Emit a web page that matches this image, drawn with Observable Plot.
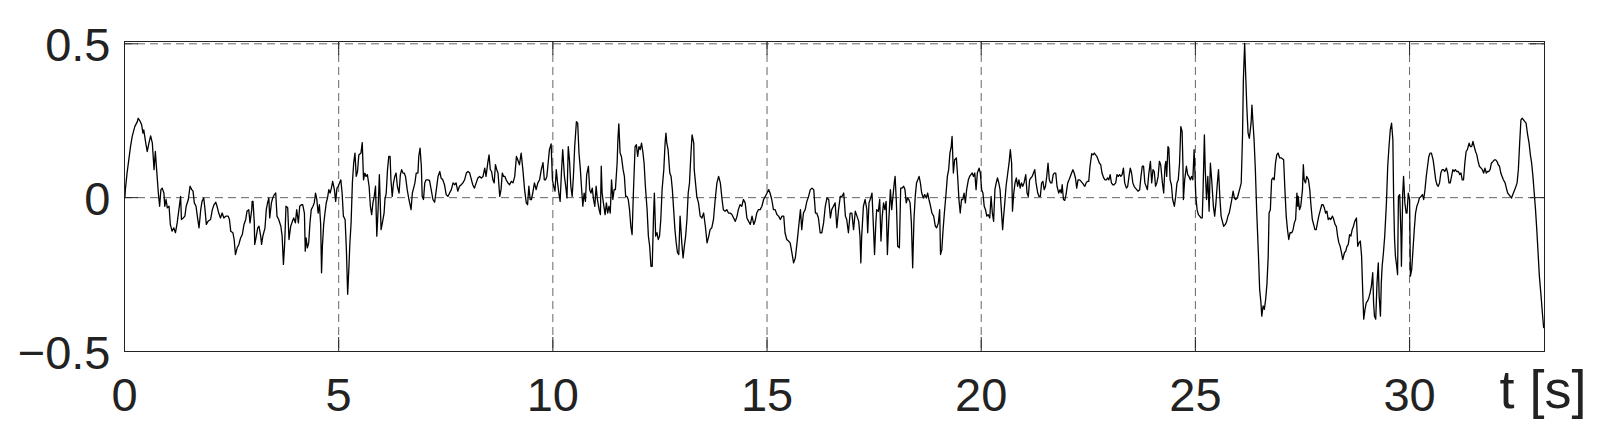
<!DOCTYPE html>
<html><head><meta charset="utf-8">
<script src="https://cdn.jsdelivr.net/npm/d3@7"></script>
<script src="https://cdn.jsdelivr.net/npm/@observablehq/plot@0.6"></script>
<style>body{margin:0;background:#fff} svg{display:block}</style>
</head><body><div id="chart"></div>
<script>
// signal samples [t (s), value]
const seg1 = [[0,0],[0.01,0],[0.02,0.026],[0.06,0.080],[0.10,0.123],[0.14,0.166],[0.18,0.199],[0.24,0.231],[0.30,0.247],[0.32,0.258],[0.37,0.247],[0.40,0.237],[0.43,0.210],[0.45,0.220],[0.49,0.183],[0.53,0.150],[0.57,0.177],[0.61,0.201],[0.65,0.177],[0.69,0.091],[0.72,0.150],[0.75,0.091],[0.79,0.015],[0.82,-0.028],[0.85,0.026],[0.88,0.031],[0.92,0.015],[0.94,-0.028],[0.97,-0.006],[1.00,-0.033],[1.04,-0.028],[1.07,-0.087],[1.11,-0.109],[1.15,-0.098],[1.19,-0.114],[1.23,-0.082],[1.27,-0.039],[1.31,0.004],[1.33,-0.071],[1.37,-0.066],[1.41,-0.060],[1.44,-0.028],[1.49,-0.006],[1.53,0.037],[1.57,0.026],[1.60,0.021],[1.63,-0.017],[1.67,-0.028],[1.70,-0.060],[1.74,-0.098],[1.78,-0.039],[1.81,-0.012],[1.85,-0.001],[1.88,-0.039],[1.91,-0.087],[1.95,-0.077],[2.01,-0.071],[2.05,-0.039],[2.09,-0.023],[2.13,-0.015],[2.16,-0.028],[2.20,-0.050],[2.24,-0.066],[2.28,-0.050],[2.32,-0.066],[2.37,-0.060],[2.42,-0.060],[2.45,-0.071],[2.48,-0.109],[2.53,-0.114],[2.56,-0.136],[2.59,-0.185],[2.63,-0.163],[2.67,-0.152],[2.71,-0.131],[2.75,-0.120],[2.79,-0.087],[2.83,-0.071],[2.86,-0.044],[2.90,-0.039],[2.93,-0.082],[2.97,-0.039],[2.98,-0.012],[3.00,-0.012],[3.03,-0.082],[3.04,-0.152],[3.07,-0.131],[3.11,-0.098],[3.14,-0.093],[3.18,-0.125],[3.20,-0.152],[3.23,-0.125],[3.28,-0.098],[3.31,-0.039],[3.34,-0.017],[3.37,-0.001],[3.39,-0.066],[3.43,-0.017],[3.46,-0.001],[3.50,0.010],[3.53,0.015],[3.56,-0.060],[3.60,-0.071],[3.65,-0.093],[3.68,-0.125],[3.71,-0.217],[3.74,-0.147],[3.77,-0.028],[3.81,-0.033],[3.84,-0.136],[3.88,-0.093],[3.92,-0.077],[3.95,-0.066],[3.99,-0.082],[4.02,-0.039],[4.06,-0.082],[4.09,-0.028],[4.13,-0.023],[4.16,-0.023],[4.20,-0.050],[4.22,-0.174],[4.24,-0.131],[4.27,-0.163],[4.30,-0.147],[4.33,-0.082],[4.36,-0.039],[4.40,-0.028],[4.43,-0.017],[4.46,0.015],[4.49,-0.006],[4.52,-0.050],[4.55,-0.023],[4.58,-0.087],[4.60,-0.244],[4.62,-0.158],[4.65,-0.087],[4.68,-0.050],[4.71,-0.017],[4.74,-0.001],[4.77,0.026],[4.80,0.015],[4.83,0.031],[4.86,0.053],[4.90,0.026],[4.93,-0.012],[4.96,0.031],[4.99,0.037],[5.02,0.048],[5.05,0.058],[5.08,0.015],[5.11,-0.060],[5.15,-0.071],[5.18,-0.169],[5.21,-0.314],[5.24,-0.223],[5.26,-0.152],[5.29,-0.082],[5.32,0.048],[5.35,0.112],[5.38,0.145],[5.41,0.069],[5.44,0.085],[5.47,0.139],[5.52,0.145],[5.55,0.179],[5.58,0.058],[5.61,0.080],[5.64,0.069],[5.67,0.075],[5.71,0.037],[5.74,-0.028],[5.77,-0.055],[5.80,-0.017],[5.83,0.004],[5.86,0.037],[5.89,-0.125],[5.92,-0.039],[5.95,0.075],[5.99,-0.104],[6.02,-0.082],[6.06,-0.050],[6.08,-0.006],[6.11,0.015],[6.14,0.091],[6.17,0.134],[6.20,0.134],[6.22,0.058],[6.25,0.004],[6.28,0.048],[6.31,0.069],[6.34,0.080],[6.37,0.037],[6.41,0.015],[6.44,0.075],[6.47,0.091],[6.50,0.080],[6.53,0.080],[6.56,0.069],[6.60,0.026],[6.64,-0.006]];
const seg2 = [[6.65,-0.012],[6.69,-0.039],[6.72,0.015],[6.75,0.031],[6.78,0.048],[6.81,0.080],[6.85,0.080],[6.87,0.134],[6.90,0.161],[6.93,0.102],[6.95,0.004],[6.98,-0.006],[7.01,0.048],[7.04,0.058],[7.08,0.058],[7.12,0.056],[7.16,0.026],[7.20,-0.006],[7.24,-0.015],[7.28,0.026],[7.32,0.069],[7.36,0.085],[7.39,0.064],[7.43,0.058],[7.47,0.042],[7.51,0.010],[7.55,0.004],[7.59,0.015],[7.63,0.026],[7.67,0.048],[7.71,0.042],[7.74,0.048],[7.78,0.021],[7.82,0.037],[7.86,0.042],[7.90,0.048],[7.94,0.058],[7.98,0.080],[8.02,0.085],[8.06,0.080],[8.10,0.058],[8.13,0.042],[8.17,0.031],[8.21,0.048],[8.25,0.064],[8.29,0.069],[8.33,0.064],[8.37,0.069],[8.41,0.096],[8.44,0.069],[8.48,0.112],[8.51,0.139],[8.54,0.091],[8.57,0.085],[8.60,0.058],[8.63,0.048],[8.66,0.107],[8.69,0.091],[8.72,0.080],[8.76,0.004],[8.79,0.026],[8.82,0.080],[8.85,0.069],[8.88,0.069],[8.91,0.058],[8.95,0.048],[8.99,0.042],[9.03,0.053],[9.07,0.048],[9.11,0.069],[9.15,0.134],[9.18,0.123],[9.22,0.107],[9.26,0.145],[9.30,0.091],[9.34,0.026],[9.38,-0.017],[9.41,-0.023],[9.44,0.037],[9.47,-0.006],[9.50,-0.006],[9.53,0.015],[9.57,0.048],[9.61,0.026],[9.65,0.048],[9.69,0.058],[9.73,0.091],[9.77,0.114],[9.80,0.058],[9.83,0.058],[9.86,0.069],[9.89,0.112],[9.92,0.156],[9.96,0.175],[9.99,0.058],[10.02,0.037],[10.05,0.021],[10.08,0.091],[10.11,0.048],[10.14,0.015],[10.17,-0.012],[10.20,0.080],[10.23,0.156],[10.27,0.069],[10.30,0.037],[10.33,-0.001],[10.36,0.166],[10.39,0.118],[10.42,0.037],[10.45,0.004],[10.48,0.069],[10.51,0.166],[10.55,0.247],[10.58,0.242],[10.61,0.145],[10.64,0.096],[10.67,0.031],[10.70,-0.028],[10.73,0.015],[10.76,-0.012],[10.79,0.075],[10.83,0.102],[10.86,0.026],[10.89,0.015],[10.92,0.031],[10.95,-0.006],[10.98,-0.028],[11.01,0.037],[11.04,-0.006],[11.08,-0.039],[11.11,-0.055],[11.13,0.102],[11.15,0.015],[11.18,-0.017],[11.22,-0.055],[11.25,-0.017],[11.28,-0.050],[11.31,-0.028],[11.34,-0.050],[11.37,0.058],[11.40,-0.006],[11.43,0.026],[11.46,0.026],[11.50,0.112],[11.52,0.193],[11.54,0.240],[11.57,0.145],[11.60,0.134],[11.64,0.091],[11.67,0.069],[11.70,0.004],[11.73,0.004],[11.76,-0.006],[11.79,-0.039],[11.82,-0.093],[11.85,-0.120],[11.88,0.015],[11.92,0.166],[11.95,0.172],[11.98,0.134],[12.01,0.166],[12.04,0.156],[12.07,0.177],[12.10,0.150],[12.13,0.112],[12.16,0.037],[12.20,-0.039],[12.23,-0.125],[12.26,-0.158],[12.29,-0.223],[12.32,-0.223],[12.35,-0.060],[12.37,0.015],[12.40,-0.125],[12.43,-0.114],[12.46,-0.136],[12.49,-0.125],[12.52,-0.071],[12.55,0.026],[12.59,0.091],[12.62,0.177],[12.64,0.210],[12.66,0.177],[12.69,0.156],[12.73,0.080],[12.76,0.069],[12.79,0.026],[12.82,-0.039],[12.85,-0.104],[12.88,-0.147],[12.91,-0.179],[12.94,-0.185],[12.97,-0.060],[13.01,-0.147],[13.04,-0.196],[13.07,-0.158],[13.10,-0.125],[13.13,-0.071],[13.16,0.015],[13.19,0.048],[13.22,0.134],[13.25,0.204],[13.29,0.177]];
const seg3 = [[13.30,0.091],[13.33,0.048],[13.36,0.004],[13.40,-0.017],[13.44,-0.060],[13.48,-0.066],[13.52,-0.050],[13.56,-0.093],[13.60,-0.147],[13.64,-0.125],[13.67,-0.104],[13.71,-0.098],[13.75,-0.071],[13.79,-0.006],[13.83,0.048],[13.87,0.069],[13.91,0.048],[13.95,-0.006],[13.98,-0.039],[14.02,-0.044],[14.06,-0.039],[14.10,-0.050],[14.14,-0.050],[14.18,-0.055],[14.22,-0.066],[14.26,-0.077],[14.30,-0.060],[14.33,-0.039],[14.37,-0.023],[14.41,-0.028],[14.45,-0.006],[14.49,-0.017],[14.53,-0.066],[14.57,-0.077],[14.61,-0.087],[14.65,-0.060],[14.69,-0.087],[14.72,-0.077],[14.76,-0.050],[14.80,-0.039],[14.84,-0.039],[14.88,-0.028],[14.92,-0.006],[14.96,0.004],[15.00,0.015],[15.04,0.026],[15.07,0.015],[15.11,-0.006],[15.15,-0.039],[15.19,-0.039],[15.23,-0.055],[15.27,-0.060],[15.31,-0.071],[15.35,-0.060],[15.39,-0.060],[15.42,-0.114],[15.46,-0.136],[15.50,-0.141],[15.54,-0.147],[15.58,-0.179],[15.62,-0.212],[15.66,-0.196],[15.70,-0.147],[15.74,-0.093],[15.78,-0.039],[15.81,-0.104],[15.85,-0.050],[15.89,-0.039],[15.93,-0.012],[15.97,0.004],[16.01,0.026],[16.05,0.031],[16.09,0.026],[16.13,-0.050],[16.16,-0.050],[16.20,-0.066],[16.24,-0.114],[16.28,-0.114],[16.32,-0.082],[16.36,-0.028],[16.40,-0.001],[16.44,-0.006],[16.48,-0.066],[16.51,-0.039],[16.55,-0.028],[16.59,-0.017],[16.63,-0.098],[16.67,-0.039],[16.71,0.004],[16.75,0.004],[16.79,0.015],[16.83,-0.060],[16.86,-0.071],[16.90,-0.114],[16.94,-0.050],[16.98,-0.050],[17.02,-0.104],[17.06,-0.044],[17.10,-0.060],[17.14,-0.077],[17.17,-0.125],[17.19,-0.212],[17.21,-0.125],[17.25,-0.028],[17.29,-0.006],[17.33,-0.039],[17.35,-0.114],[17.38,-0.017],[17.42,-0.001],[17.45,0.015],[17.48,-0.082],[17.51,-0.185],[17.54,-0.082],[17.56,-0.039],[17.60,-0.044],[17.63,-0.006],[17.66,-0.141],[17.69,-0.060],[17.72,-0.017],[17.75,-0.039],[17.78,-0.012],[17.81,-0.185],[17.84,-0.082],[17.88,0.026],[17.91,-0.039],[17.94,0.004],[17.97,0.048],[17.99,0.069],[18.02,-0.017],[18.05,-0.158],[18.09,-0.163],[18.12,0.031],[18.15,0.031],[18.19,0.037],[18.22,0.026],[18.25,-0.017],[18.28,-0.001],[18.31,-0.006],[18.34,-0.017],[18.37,-0.082],[18.40,-0.228],[18.43,-0.071],[18.46,0.004],[18.49,0.048],[18.52,0.058],[18.55,0.069],[18.58,0.048],[18.61,0.015],[18.65,-0.001],[18.68,0.010],[18.72,-0.001],[18.75,0.015],[18.78,-0.006],[18.81,-0.023],[18.85,-0.050],[18.89,-0.060],[18.93,-0.093],[18.96,-0.098],[19.00,-0.082],[19.03,-0.039],[19.05,-0.185],[19.08,-0.169],[19.11,-0.104],[19.14,-0.050],[19.18,0.015],[19.21,0.069],[19.24,0.091],[19.27,0.145],[19.30,0.166],[19.32,0.199],[19.35,0.080],[19.38,0.123],[19.42,0.129],[19.45,0.069],[19.48,-0.006],[19.51,-0.050],[19.54,-0.006],[19.57,-0.006],[19.60,0.015],[19.63,-0.017],[19.66,0.026],[19.70,0.058],[19.73,0.069],[19.76,0.075],[19.79,0.080],[19.82,0.069],[19.85,0.080],[19.88,0.026],[19.91,0.080]];
const seg4 = [[19.95,0.096],[19.98,0.080],[20.01,0.026],[20.04,0.015],[20.07,-0.028],[20.10,-0.039],[20.13,-0.060],[20.16,-0.055],[20.20,-0.066],[20.23,0.004],[20.26,-0.050],[20.29,-0.077],[20.32,0.026],[20.35,0.048],[20.38,0.064],[20.41,0.048],[20.44,0.026],[20.47,-0.039],[20.50,-0.104],[20.52,-0.066],[20.55,-0.017],[20.58,0.037],[20.62,0.080],[20.65,0.112],[20.68,0.156],[20.71,0.112],[20.73,-0.044],[20.76,0.015],[20.79,0.048],[20.82,0.064],[20.85,0.037],[20.88,0.058],[20.91,0.031],[20.94,0.048],[20.97,0.037],[21.00,0.048],[21.04,0.075],[21.07,0.015],[21.10,0.004],[21.13,0.058],[21.16,0.064],[21.19,0.069],[21.22,0.080],[21.25,0.091],[21.28,0.048],[21.32,0.015],[21.35,0.004],[21.38,0.004],[21.41,0.048],[21.44,0.053],[21.47,0.026],[21.50,0.037],[21.53,0.069],[21.56,0.112],[21.59,0.058],[21.62,0.048],[21.65,0.048],[21.68,0.075],[21.71,0.080],[21.74,0.080],[21.77,0.037],[21.81,0.015],[21.84,0.026],[21.87,0.015],[21.89,0.042],[21.92,-0.006],[21.95,-0.009],[21.98,0.010],[22.02,0.048],[22.05,0.058],[22.08,0.069],[22.11,0.080],[22.14,0.091],[22.17,0.080],[22.20,0.064],[22.23,0.031],[22.26,0.058],[22.30,0.058],[22.33,0.053],[22.36,0.048],[22.39,0.042],[22.42,0.037],[22.45,0.048],[22.48,0.053],[22.51,0.053],[22.54,0.102],[22.58,0.143],[22.61,0.139],[22.64,0.145],[22.67,0.139],[22.70,0.134],[22.73,0.123],[22.76,0.112],[22.79,0.107],[22.82,0.080],[22.86,0.064],[22.89,0.058],[22.92,0.058],[22.95,0.064],[22.98,0.058],[23.01,0.075],[23.04,0.048],[23.07,0.042],[23.10,0.042],[23.14,0.048],[23.17,0.075],[23.20,0.069],[23.23,0.075],[23.26,0.069],[23.29,0.075],[23.32,0.096],[23.35,0.048],[23.39,0.031],[23.42,0.037],[23.45,0.069],[23.48,0.096],[23.51,0.080],[23.54,0.048],[23.57,0.037],[23.60,0.031],[23.63,0.026],[23.66,0.021],[23.70,0.026],[23.73,0.069],[23.76,0.102],[23.79,0.102],[23.82,0.048],[23.85,0.037],[23.88,0.026],[23.91,0.075],[23.95,0.118],[23.98,0.048],[24.01,0.091],[24.04,0.085],[24.07,0.037],[24.10,0.048],[24.13,0.069],[24.16,0.118],[24.19,0.107],[24.23,0.048],[24.26,0.015],[24.29,0.102],[24.31,0.118],[24.33,0.069],[24.36,0.166],[24.38,0.161],[24.41,0.058],[24.44,0.042],[24.47,-0.006],[24.51,-0.028],[24.54,0.004],[24.57,0.048],[24.60,0.058],[24.63,0.112],[24.66,0.231],[24.69,0.215],[24.71,0.102],[24.72,-0.006],[24.75,0.058],[24.79,0.102],[24.82,0.075],[24.85,0.069],[24.88,0.058],[24.91,0.069],[24.94,0.058],[24.97,0.156],[24.99,0.080],[25.01,0.004],[25.04,-0.039],[25.07,-0.055],[25.10,-0.060],[25.13,-0.066],[25.16,-0.066],[25.18,0.026],[25.21,0.204],[25.23,0.091],[25.26,-0.006],[25.29,0.069],[25.32,-0.044],[25.35,0.112],[25.38,0.058],[25.42,-0.028],[25.45,-0.060],[25.48,-0.017],[25.51,0.042],[25.54,0.091],[25.57,0.004],[25.60,-0.060],[25.63,-0.077],[25.66,-0.093],[25.70,-0.087],[25.73,-0.077],[25.76,-0.060],[25.79,-0.050],[25.82,-0.028],[25.85,-0.006],[25.88,0.021],[25.91,-0.001],[25.94,-0.006],[25.98,-0.001],[26.01,0.015],[26.04,0.031],[26.07,0.048],[26.10,0.199],[26.12,0.382],[26.15,0.501],[26.17,0.415],[26.20,0.296],[26.23,0.210],[26.26,0.193],[26.30,0.242],[26.32,0.301],[26.34,0.253],[26.37,0.188],[26.40,0.091],[26.43,-0.039],[26.47,-0.179]];
const seg5 = [[26.50,-0.298],[26.53,-0.341],[26.55,-0.385],[26.58,-0.352],[26.61,-0.363],[26.64,-0.331],[26.67,-0.282],[26.70,-0.190],[26.72,-0.050],[26.75,-0.039],[26.78,0.058],[26.81,0.064],[26.84,0.058],[26.87,0.112],[26.90,0.139],[26.93,0.145],[26.97,0.129],[27.01,0.129],[27.06,0.123],[27.09,0.026],[27.12,-0.060],[27.15,-0.104],[27.18,-0.136],[27.21,-0.114],[27.25,-0.114],[27.28,-0.104],[27.31,-0.082],[27.34,-0.071],[27.37,0.015],[27.39,-0.028],[27.40,0.004],[27.43,-0.039],[27.46,-0.028],[27.50,0.026],[27.52,0.107],[27.54,0.058],[27.57,0.048],[27.60,0.069],[27.64,0.058],[27.67,0.026],[27.70,-0.028],[27.73,-0.071],[27.76,-0.087],[27.79,-0.104],[27.82,-0.104],[27.85,-0.082],[27.88,-0.060],[27.92,-0.039],[27.95,-0.023],[27.98,-0.023],[28.01,-0.033],[28.04,-0.050],[28.07,-0.044],[28.10,-0.071],[28.13,-0.066],[28.16,-0.071],[28.20,-0.060],[28.23,-0.071],[28.26,-0.087],[28.29,-0.093],[28.32,-0.125],[28.35,-0.147],[28.38,-0.158],[28.41,-0.179],[28.44,-0.201],[28.48,-0.179],[28.51,-0.174],[28.54,-0.158],[28.57,-0.152],[28.60,-0.120],[28.63,-0.125],[28.66,-0.104],[28.69,-0.093],[28.72,-0.077],[28.76,-0.066],[28.79,-0.158],[28.82,-0.147],[28.85,-0.141],[28.88,-0.190],[28.91,-0.320],[28.93,-0.395],[28.96,-0.363],[28.99,-0.341],[29.02,-0.336],[29.05,-0.325],[29.08,-0.309],[29.11,-0.287],[29.14,-0.244],[29.16,-0.341],[29.18,-0.385],[29.21,-0.395],[29.24,-0.277],[29.27,-0.212],[29.29,-0.320],[29.32,-0.385],[29.34,-0.277],[29.36,-0.223],[29.39,-0.179],[29.42,-0.125],[29.46,-0.017],[29.49,0.102],[29.52,0.166],[29.55,0.220],[29.58,0.242],[29.61,0.188],[29.63,-0.017],[29.65,-0.136],[29.67,-0.190],[29.70,-0.223],[29.72,-0.250],[29.74,0.004],[29.77,0.010],[29.80,-0.125],[29.81,-0.223],[29.84,0.015],[29.86,0.069],[29.89,-0.017],[29.92,-0.050],[29.94,-0.050],[29.97,0.015],[30.00,-0.006],[30.02,-0.255],[30.05,-0.233],[30.08,-0.169],[30.11,-0.104],[30.14,-0.050],[30.17,-0.028],[30.20,-0.017],[30.23,-0.001],[30.27,0.004],[30.30,0.010],[30.33,-0.006],[30.36,0.026],[30.39,0.069],[30.42,0.102],[30.45,0.134],[30.48,0.145],[30.51,0.145],[30.55,0.123],[30.58,0.091],[30.61,0.058],[30.64,0.042],[30.67,0.037],[30.70,0.048],[30.73,0.080],[30.76,0.091],[30.79,0.091],[30.82,0.085],[30.86,0.096],[30.89,0.080],[30.92,0.048],[30.95,0.048],[30.98,0.069],[31.01,0.091],[31.04,0.085],[31.07,0.091],[31.10,0.085],[31.14,0.085],[31.17,0.075],[31.20,0.080],[31.23,0.058],[31.26,0.058],[31.29,0.112],[31.32,0.150],[31.35,0.156],[31.39,0.177],[31.42,0.166],[31.45,0.166],[31.48,0.183],[31.51,0.166],[31.54,0.150],[31.57,0.139],[31.60,0.118],[31.63,0.102],[31.67,0.096],[31.70,0.091],[31.73,0.080],[31.76,0.096],[31.79,0.080],[31.82,0.085],[31.85,0.085],[31.88,0.091],[31.91,0.112],[31.95,0.118],[31.98,0.123],[32.01,0.123],[32.04,0.118],[32.07,0.107],[32.10,0.102],[32.13,0.080],[32.16,0.069],[32.19,0.058],[32.23,0.048],[32.26,0.031],[32.29,0.015],[32.32,0.010],[32.35,0.004],[32.38,-0.001],[32.41,0.010],[32.44,0.021],[32.47,0.031],[32.51,0.048],[32.54,0.091],[32.57,0.177],[32.60,0.253],[32.63,0.258],[32.66,0.253],[32.69,0.247],[32.72,0.242],[32.75,0.210],[32.79,0.177],[32.82,0.139],[32.85,0.112],[32.88,0.069],[32.91,0.015],[32.94,-0.039],[32.97,-0.104],[33.00,-0.179],[33.03,-0.255],[33.07,-0.320],[33.10,-0.374],[33.13,-0.422]];

const xTicks = [0, 5, 10, 15, 20, 25, 30];
const xTickLabels = ["0", "5", "10", "15", "20", "25", "30"];
const yTicks = [-0.5, 0, 0.5];
const yTickLabels = ["\u22120.5", "0", "0.5"];
const xLabel = "t [s]";
const xDomain = [0, 33.15];
const yDomain = [-0.5, 0.5075];

const data = [...seg1, ...seg2, ...seg3, ...seg4, ...seg5].map(([t, v]) => ({t, v}));

const W = 1611, H = 437, mL = 124, mR = 67, mT = 41, mB = 86;
const pxY = (yDomain[1] - yDomain[0]) / (H - mT - mB);
const pxX = (xDomain[1] - xDomain[0]) / (W - mL - mR);
const tickLen = 14;
const font = "'Liberation Sans', Arial, Helvetica, sans-serif";
const ink = "#222";
const grid = {stroke: "#666", strokeDasharray: "8,5", strokeWidth: 1};

const chart = Plot.plot({
  width: W, height: H,
  marginLeft: mL, marginRight: mR, marginTop: mT, marginBottom: mB,
  x: {domain: xDomain, axis: null},
  y: {domain: yDomain, axis: null},
  style: {fontFamily: font, background: "#fff", color: ink},
  marks: [
    Plot.ruleX(xTicks.slice(1), grid),
    Plot.ruleY([0, 0.5], grid),
    Plot.lineY(data, {x: "t", y: "v", stroke: "#000", strokeWidth: 1.3}),
    Plot.ruleX(xTicks, {y1: yDomain[0], y2: yDomain[0] + tickLen * pxY, stroke: ink}),
    Plot.ruleX(xTicks, {y1: yDomain[1], y2: yDomain[1] - tickLen * pxY, stroke: ink}),
    Plot.ruleY(yTicks, {x1: xDomain[0], x2: xDomain[0] + tickLen * pxX, stroke: ink}),
    Plot.ruleY(yTicks, {x1: xDomain[1], x2: xDomain[1] - tickLen * pxX, stroke: ink}),
    Plot.frame({stroke: ink}),
    Plot.text(xTicks, {x: d => d, text: (d, i) => xTickLabels[i], frameAnchor: "bottom", lineAnchor: "top", dy: 26, fontSize: 47, fill: ink}),
    Plot.text(yTicks, {y: d => d, text: (d, i) => yTickLabels[i], frameAnchor: "left", textAnchor: "end", dx: -14, dy: 2, fontSize: 47, fill: ink}),
    Plot.text([xLabel], {text: d => d, frameAnchor: "bottom-right", textAnchor: "start", lineAnchor: "top", dx: -45, dy: 18, fontSize: 54, fill: ink})
  ]
});
document.getElementById("chart").appendChild(chart);
</script>
</body></html>
